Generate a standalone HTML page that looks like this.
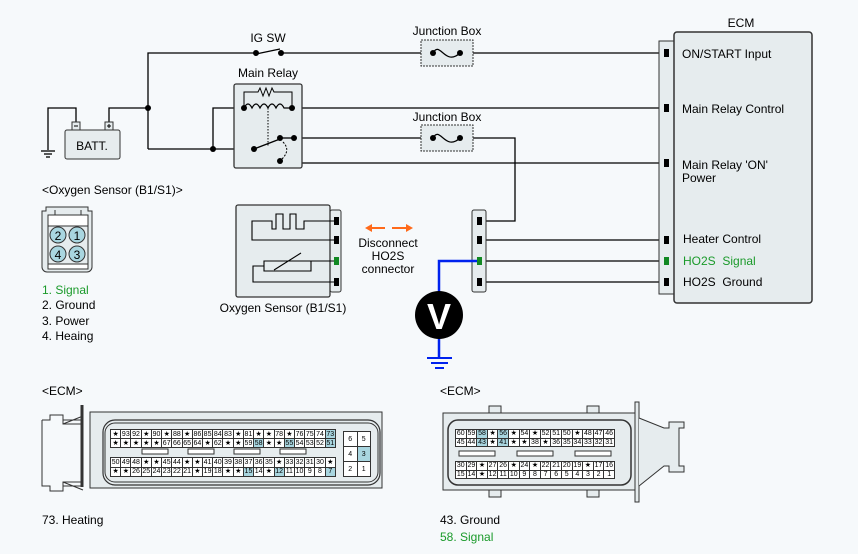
<!DOCTYPE html>
<html><head><meta charset="utf-8"><style>
body{margin:0;width:858px;height:554px;background:#f6f9fb;font-family:"Liberation Sans",sans-serif;position:relative;overflow:hidden}
svg{position:absolute;left:0;top:0}
table.g{position:absolute;border-collapse:collapse;table-layout:fixed;font-size:7px;font-family:"Liberation Sans",sans-serif;background:#fff}
table.g td{border:1px solid #333;padding:0;text-align:center;line-height:7px;overflow:hidden;white-space:nowrap}
td.h{background:#a9d6e0}
</style></head><body>
<svg width="858" height="554" viewBox="0 0 858 554" font-family="Liberation Sans, sans-serif" font-size="12">
<g stroke="#000" stroke-width="1.3" fill="none">
<polyline points="148,149 148,53 256,53"/>
<line x1="256" y1="54" x2="280" y2="49"/>
<line x1="281" y1="53" x2="659" y2="53"/>
<polyline points="76,124 76,108 48,108 48,150"/>
<line x1="41" y1="151" x2="55" y2="151"/><line x1="44" y1="154" x2="52" y2="154"/><line x1="46" y1="157" x2="50" y2="157"/>
<polyline points="109,124 109,108 148,108"/>
<line x1="148" y1="149" x2="254" y2="149"/>
<polyline points="244,108 213,108 213,149"/>
<line x1="292" y1="108" x2="659" y2="108"/>
<line x1="294" y1="138" x2="421" y2="138"/>
<polyline points="473,138 515,138 515,221 480,221"/>
<polyline points="294,138 294,163 659,163"/>
<line x1="480" y1="240" x2="659" y2="240"/>
<line x1="480" y1="261" x2="659" y2="261"/>
<line x1="480" y1="282" x2="659" y2="282"/>
</g>
<rect x="65" y="130" width="55" height="29" rx="2" fill="#e6ecee" stroke="#333"/>
<rect x="72" y="122" width="8" height="8" fill="#e6ecee" stroke="#333"/><line x1="74" y1="126" x2="78" y2="126" stroke="#000"/>
<rect x="105" y="122" width="8" height="8" fill="#e6ecee" stroke="#333"/><path d="M107 126h4M109 124v4" stroke="#000"/>
<text x="92" y="150" text-anchor="middle" font-size="12">BATT.</text>
<text x="268" y="42" text-anchor="middle">IG SW</text>
<circle cx="256" cy="53" r="3"/><circle cx="281" cy="53" r="3"/>
<circle cx="148" cy="108" r="3"/><circle cx="213" cy="149" r="3"/>
<text x="447" y="35" text-anchor="middle">Junction Box</text>
<rect x="421" y="40" width="52" height="26" fill="#e6ecee" stroke="#333" stroke-dasharray="2,1"/>
<path d="M433 53 C440 40,445 67,460 53" fill="none" stroke="#000" stroke-width="1.2"/>
<circle cx="433" cy="53" r="3"/><circle cx="460" cy="53" r="3"/>
<text x="447" y="121" text-anchor="middle">Junction Box</text>
<rect x="421" y="125" width="52" height="26" fill="#e6ecee" stroke="#333" stroke-dasharray="2,1"/>
<path d="M433 138 C440 125,445 152,460 138" fill="none" stroke="#000" stroke-width="1.2"/>
<circle cx="433" cy="138" r="3"/><circle cx="460" cy="138" r="3"/>
<text x="268" y="77" text-anchor="middle">Main Relay</text>
<rect x="234" y="84" width="68" height="84" rx="2" fill="#e6ecee" stroke="#333" stroke-width="1.3"/>
<polyline points="244,108 244,92 258,92 260,88 263,96 266,88 269,96 272,88 274,92 292,92 292,108" fill="none" stroke="#000"/>
<path d="M244 108 q4 -8 8 0 q4 -8 8 0 q4 -8 8 0 q4 -8 8 0 q4 -8 8 0 h8" fill="none" stroke="#000" stroke-width="1.2"/>
<line x1="268" y1="108" x2="268" y2="146" stroke="#000" stroke-dasharray="1.5,1.5"/>
<line x1="254" y1="149" x2="280" y2="139" stroke="#000" stroke-width="1.3"/>
<line x1="280" y1="138" x2="294" y2="138" stroke="#000" stroke-width="1.3"/>
<path d="M283 142 q8 8 -1 17" fill="none" stroke="#000" stroke-dasharray="2,1.5"/>
<circle cx="244" cy="108" r="3"/><circle cx="292" cy="108" r="3"/><circle cx="254" cy="149" r="3"/><circle cx="280" cy="138" r="3"/><circle cx="294" cy="138" r="3"/><circle cx="280" cy="161" r="3"/>
<text x="741" y="27" text-anchor="middle">ECM</text>
<rect x="659" y="41" width="15" height="253" fill="#e6ecee" stroke="#333"/>
<rect x="674" y="32" width="138" height="271" rx="3" fill="#e6ecee" stroke="#333" stroke-width="1.5"/>
<g fill="#000"><rect x="664" y="49" width="5" height="8"/><rect x="664" y="104" width="5" height="8"/><rect x="664" y="159" width="5" height="8"/><rect x="664" y="236" width="5" height="8"/><rect x="664" y="278" width="5" height="8"/></g>
<rect x="664" y="257" width="5" height="8" fill="#118822"/>
<text x="682" y="58">ON/START Input</text>
<text x="682" y="113">Main Relay Control</text>
<text x="682" y="169">Main Relay 'ON'</text>
<text x="682" y="182">Power</text>
<text x="683" y="243">Heater Control</text>
<text x="683" y="265" fill="#1a9a2a" xml:space="preserve">HO2S  Signal</text>
<text x="683" y="286" xml:space="preserve">HO2S  Ground</text>
<text x="42" y="194">&lt;Oxygen Sensor (B1/S1)&gt;</text>
<path d="M50 207h38v4h4v56a5 5 0 0 1-5 5h-40a5 5 0 0 1-5-5v-56h4v-4z" fill="#e6ecee" stroke="#333"/>
<rect x="48" y="215" width="40" height="54" fill="#fff" stroke="#333"/>
<path d="M55 210v5h26v-5" fill="none" stroke="#333"/>
<rect x="48" y="226" width="40" height="38" fill="#e6ecee" stroke="#333"/>
<g fill="#a9d6e0" stroke="#333"><circle cx="58" cy="235" r="8"/><circle cx="77" cy="235" r="8"/><circle cx="58" cy="254" r="8"/><circle cx="77" cy="254" r="8"/></g>
<g text-anchor="middle" font-size="12"><text x="58" y="240">2</text><text x="77" y="240">1</text><text x="58" y="259">4</text><text x="77" y="259">3</text></g>
<text x="42" y="294" fill="#1a9a2a" font-size="12">1. Signal</text>
<text x="42" y="309" font-size="12">2. Ground</text>
<text x="42" y="325" font-size="12">3. Power</text>
<text x="42" y="340" font-size="12">4. Heaing</text>
<rect x="330" y="210" width="11" height="82" rx="2" fill="#e6ecee" stroke="#333"/>
<rect x="236" y="205" width="94" height="92" rx="2" fill="#e6ecee" stroke="#333" stroke-width="1.3"/>
<g fill="none" stroke="#000" stroke-width="1.1">
<polyline points="336,221 304,221 304,229 296,229 296,214 290,214 290,229 283,229 283,214 276,214 276,229 272,229 272,221 252,221 252,240 336,240"/>
<polyline points="336,261 311,261 311,271 264,271 264,261 311,261"/>
<polyline points="264,266 253,266 253,282 336,282"/>
<line x1="274" y1="270" x2="301" y2="253"/>
</g>
<g fill="#000"><rect x="334" y="217" width="5" height="8"/><rect x="334" y="236" width="5" height="8"/><rect x="334" y="278" width="5" height="8"/></g>
<rect x="334" y="257" width="5" height="8" fill="#118822"/>
<text x="283" y="312" text-anchor="middle" font-size="12">Oxygen Sensor (B1/S1)</text>
<g stroke="#ff6a1a" stroke-width="2" fill="#ff6a1a">
<line x1="370" y1="228" x2="385" y2="228"/><path d="M365 228l7-4v8z" stroke="none"/>
<line x1="392" y1="228" x2="407" y2="228"/><path d="M413 228l-7-4v8z" stroke="none"/>
</g>
<g text-anchor="middle" font-size="12"><text x="388" y="247">Disconnect</text><text x="388" y="260">HO2S</text><text x="388" y="273">connector</text></g>
<rect x="472" y="210" width="14" height="82" rx="2" fill="#e6ecee" stroke="#333"/>
<polyline points="479,261 439,261 439,296" fill="none" stroke="#0022ee" stroke-width="2.5"/>
<line x1="439" y1="334" x2="439" y2="358" stroke="#0022ee" stroke-width="2.5"/>
<g stroke="#0022ee" stroke-width="2"><line x1="427" y1="358" x2="452" y2="358"/><line x1="431" y1="363" x2="448" y2="363"/><line x1="435" y1="368" x2="444" y2="368"/></g>
<g fill="#000"><rect x="477" y="217" width="5" height="8"/><rect x="477" y="236" width="5" height="8"/><rect x="477" y="278" width="5" height="8"/></g>
<rect x="477" y="257" width="5" height="8" fill="#118822"/>
<circle cx="439" cy="315" r="24" fill="#000"/>
<text x="439" y="329" text-anchor="middle" fill="#fff" font-size="36" font-weight="bold">V</text>
<text x="42" y="395" font-size="12">&lt;ECM&gt;</text>
<path d="M42 420h8v-5h13v5h20v-8M63 420v4h20M42 420v66h8M42 486h8v5h13v-5h20M63 486v-4h20" fill="none" stroke="#333"/>
<path d="M82 405v82" stroke="#333" stroke-width="3"/>
<path d="M63 424l20-8M63 482l20 8" stroke="#333"/>
<rect x="90" y="412" width="292" height="76" fill="#e6ecee" stroke="#333"/>
<rect x="103" y="420" width="277" height="65" rx="12" fill="none" stroke="#333" stroke-width="1.2"/>
<rect x="105" y="423" width="273" height="59" rx="10" fill="none" stroke="#333"/>
<g fill="#fff" stroke="#333"><rect x="142" y="449" width="26" height="5"/><rect x="188" y="449" width="26" height="5"/><rect x="234" y="449" width="26" height="5"/><rect x="280" y="449" width="26" height="5"/></g>
<text x="440" y="395" font-size="12">&lt;ECM&gt;</text>
<rect x="635" y="402" width="4" height="100" fill="#e6ecee" stroke="#333"/>
<path d="M639 418l25 10h5v-6h15v6h-5v38h5v6h-15v-6h-5l-25 20" fill="#e6ecee" stroke="#333"/>
<rect x="443" y="413" width="192" height="77" fill="#e6ecee" stroke="#333"/>
<g fill="#e6ecee" stroke="#333"><rect x="489" y="406" width="12" height="7"/><rect x="587" y="406" width="12" height="7"/><rect x="489" y="490" width="12" height="7"/><rect x="587" y="490" width="12" height="7"/></g>
<rect x="448" y="420" width="183" height="65" rx="10" fill="none" stroke="#333" stroke-width="1.5"/>
<g fill="#fff" stroke="#333"><rect x="459" y="451" width="36" height="5"/><rect x="517" y="451" width="36" height="5"/><rect x="575" y="451" width="36" height="5"/></g>
<text x="42" y="524" font-size="12">73. Heating</text>
<text x="440" y="524" font-size="12">43. Ground</text>
<text x="440" y="541" font-size="12" fill="#1a9a2a">58. Signal</text>
</svg>

<table class="g" style="left:110px;top:429px;width:226px;height:19px">
<tr><td>★</td><td>93</td><td>92</td><td>★</td><td>90</td><td>★</td><td>88</td><td>★</td><td>86</td><td>85</td><td>84</td><td>83</td><td>★</td><td>81</td><td>★</td><td>★</td><td>78</td><td>★</td><td>76</td><td>75</td><td>74</td><td class="h">73</td></tr>
<tr><td>★</td><td>★</td><td>★</td><td>★</td><td>★</td><td>67</td><td>66</td><td>65</td><td>64</td><td>★</td><td>62</td><td>★</td><td>★</td><td>59</td><td class="h">58</td><td>★</td><td>★</td><td class="h">55</td><td>54</td><td>53</td><td>52</td><td class="h">51</td></tr>
</table>
<table class="g" style="left:110px;top:457px;width:226px;height:20px">
<tr><td>50</td><td>49</td><td>48</td><td>★</td><td>★</td><td>45</td><td>44</td><td>★</td><td>★</td><td>41</td><td>40</td><td>39</td><td>38</td><td>37</td><td>36</td><td>35</td><td>★</td><td>33</td><td>32</td><td>31</td><td>30</td><td>★</td></tr>
<tr><td>★</td><td>★</td><td>26</td><td>25</td><td>24</td><td>23</td><td>22</td><td>21</td><td>★</td><td>19</td><td>18</td><td>★</td><td>★</td><td class="h">15</td><td>14</td><td>★</td><td class="h">12</td><td>11</td><td>10</td><td>9</td><td>8</td><td class="h">7</td></tr>
</table>
<table class="g" style="left:343px;top:431px;width:28px;height:46px">
<tr><td>6</td><td>5</td></tr><tr><td>4</td><td class="h">3</td></tr><tr><td>2</td><td>1</td></tr>
</table>
<table class="g" style="left:455px;top:429px;width:160px;height:18px">
<tr><td>60</td><td>59</td><td class="h">58</td><td>★</td><td class="h">56</td><td>★</td><td>54</td><td>★</td><td>52</td><td>51</td><td>50</td><td>★</td><td>48</td><td>47</td><td>46</td></tr>
<tr><td>45</td><td>44</td><td class="h">43</td><td>★</td><td class="h">41</td><td>★</td><td>★</td><td>38</td><td>★</td><td>36</td><td>35</td><td>34</td><td>33</td><td>32</td><td>31</td></tr>
</table>
<table class="g" style="left:455px;top:461px;width:160px;height:18px">
<tr><td>30</td><td>29</td><td>★</td><td>27</td><td>26</td><td>★</td><td>24</td><td>★</td><td>22</td><td>21</td><td>20</td><td>19</td><td>★</td><td>17</td><td>16</td></tr>
<tr><td>15</td><td>14</td><td>★</td><td>12</td><td>11</td><td>10</td><td>9</td><td>8</td><td>7</td><td>6</td><td>5</td><td>4</td><td>3</td><td>2</td><td>1</td></tr>
</table>
</body></html>
